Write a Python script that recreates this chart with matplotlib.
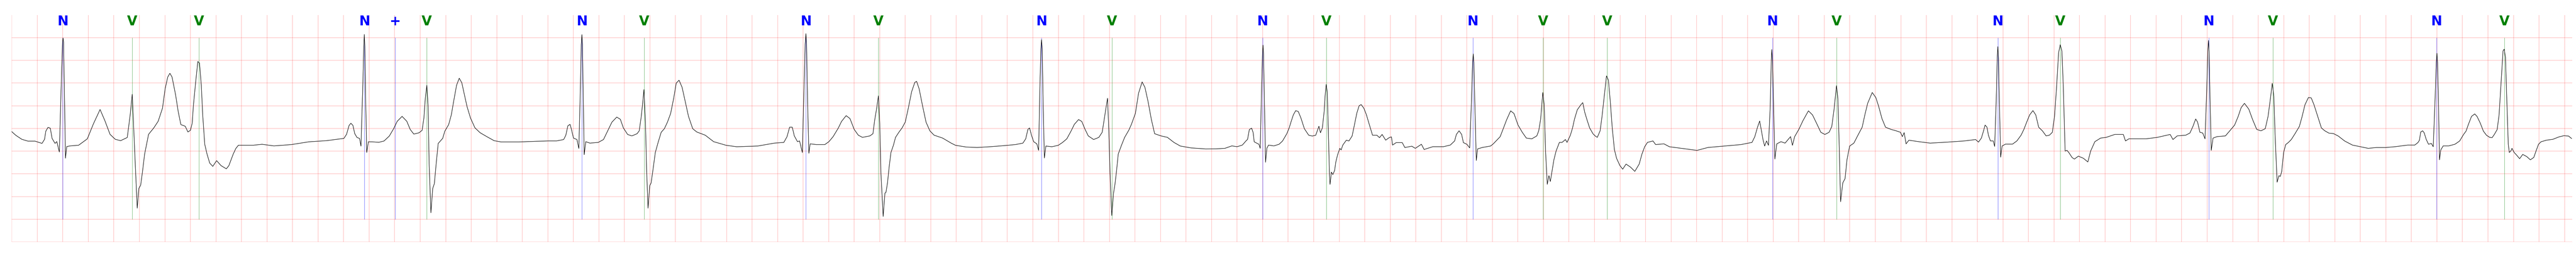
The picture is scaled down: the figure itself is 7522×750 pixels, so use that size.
import numpy as np
import matplotlib
matplotlib.use("Agg")
import matplotlib.pyplot as plt
import matplotlib.transforms as mtransforms

# ---- beat annotations (time in s) ----
ann_t = [0.3995, 0.944, 1.467, 2.764, 3.005, 3.250, 4.467, 4.954, 6.222, 6.789,
         8.068, 8.620, 9.800, 10.300, 11.448, 11.998, 12.498, 13.794, 14.296,
         15.560, 16.049, 17.213, 17.715, 18.998, 19.529]
ann_sym = ['N', 'V', 'V', 'N', '+', 'V', 'N', 'V', 'N', 'V',
           'N', 'V', 'N', 'V', 'N', 'V', 'V', 'N', 'V',
           'N', 'V', 'N', 'V', 'N', 'V']
sym_color = {'N': 'blue', 'V': 'green', '+': 'blue'}

# ---- ECG trace: time (s), amplitude (mV) ----
trace_t = [
    0.000, 0.031, 0.079, 0.127, 0.182, 0.237, 0.257, 0.267, 0.284, 0.302, 0.316, 0.339, 0.353,
    0.373, 0.390, 0.398, 0.402, 0.406, 0.412, 0.421, 0.431, 0.456, 0.524, 0.592, 0.640, 0.692,
    0.729, 0.770, 0.811, 0.853, 0.905, 0.928, 0.944, 0.962, 0.983, 0.996, 1.010, 1.024, 1.041,
    1.072, 1.113, 1.147, 1.181, 1.202, 1.222, 1.239, 1.256, 1.284, 1.304, 1.325, 1.359, 1.380,
    1.400, 1.414, 1.423, 1.441, 1.458, 1.471, 1.485, 1.496, 1.512, 1.530, 1.551, 1.575, 1.605,
    1.640, 1.681, 1.701, 1.735, 1.756, 1.776, 1.824, 1.893, 1.961,
    2.054, 2.191, 2.328, 2.465, 2.602, 2.623, 2.643, 2.657, 2.673, 2.687, 2.705, 2.725, 2.736,
    2.750, 2.758, 2.762, 2.766, 2.773, 2.781, 2.794, 2.821, 2.876, 2.917, 2.958, 2.992, 3.020,
    3.058, 3.095, 3.122, 3.150, 3.191, 3.215, 3.229, 3.240, 3.252, 3.262, 3.270, 3.284, 3.298,
    3.311, 3.325, 3.341, 3.376, 3.393, 3.423, 3.444, 3.464, 3.485, 3.506, 3.526, 3.547, 3.567,
    3.594, 3.629, 3.670, 3.725, 3.779, 3.834, 3.971, 4.108,
    4.201, 4.267, 4.324, 4.341, 4.357, 4.374, 4.385, 4.401, 4.428, 4.443, 4.455, 4.462, 4.467,
    4.471, 4.478, 4.485, 4.497, 4.530, 4.595, 4.636, 4.669, 4.702, 4.740, 4.768, 4.792, 4.825,
    4.858, 4.899, 4.916, 4.932, 4.944, 4.953, 4.965, 4.973, 4.985, 4.998, 5.009, 5.022, 5.042,
    5.064, 5.088, 5.113, 5.137, 5.162, 5.187, 5.206, 5.228, 5.252, 5.277, 5.302, 5.335, 5.367,
    5.433, 5.499, 5.597, 5.680, 5.844, 5.975, 6.049, 6.074, 6.094, 6.115, 6.131, 6.156, 6.172,
    6.194, 6.207, 6.216, 6.222, 6.227, 6.235, 6.245, 6.255, 6.304, 6.370, 6.402, 6.435, 6.476,
    6.501, 6.537, 6.567, 6.600, 6.632, 6.665, 6.723, 6.747,
    6.760, 6.777, 6.790, 6.800, 6.810, 6.827, 6.841, 6.849, 6.861, 6.874, 6.888, 6.908, 6.924,
    6.950, 6.975, 7.000, 7.025, 7.050, 7.075, 7.089, 7.109, 7.134, 7.163, 7.193, 7.226, 7.293,
    7.360, 7.394, 7.478, 7.562, 7.662, 7.763, 7.863, 7.922, 7.944, 7.961, 7.974, 7.989, 8.006,
    8.031, 8.045, 8.055, 8.063, 8.068, 8.073, 8.080, 8.090, 8.102, 8.149, 8.199, 8.233, 8.266,
    8.300, 8.325, 8.358, 8.383, 8.409, 8.434, 8.476, 8.517, 8.543, 8.559, 8.573, 8.585, 8.595,
    8.605, 8.618, 8.632, 8.643, 8.655, 8.669, 8.694, 8.719, 8.752, 8.772, 8.803, 8.828, 8.856,
    8.878, 8.903, 8.928, 8.954, 9.004, 9.054, 9.105, 9.155, 9.238, 9.353,
    9.436, 9.504, 9.559, 9.600, 9.641, 9.669, 9.682, 9.696, 9.714, 9.726, 9.734, 9.758, 9.771,
    9.781, 9.792, 9.799, 9.803, 9.807, 9.814, 9.823, 9.833, 9.846, 9.888, 9.929, 9.956, 9.990,
    10.008, 10.024, 10.041, 10.059, 10.079, 10.100, 10.127, 10.161, 10.189, 10.216, 10.241,
    10.253, 10.268, 10.282, 10.290, 10.298, 10.306, 10.315, 10.323, 10.328, 10.339, 10.350,
    10.364, 10.373, 10.387, 10.405, 10.415, 10.428, 10.456, 10.476, 10.501, 10.517, 10.538,
    10.556, 10.572, 10.593, 10.613, 10.634, 10.661, 10.695, 10.716, 10.736, 10.764, 10.791,
    10.809, 10.818, 10.846, 10.894, 10.914, 10.969, 10.996, 11.044, 11.065, 11.133, 11.216,
    11.270, 11.304, 11.318, 11.339, 11.359, 11.373, 11.400,
    11.422, 11.436, 11.445, 11.450, 11.455, 11.462, 11.474, 11.484, 11.521, 11.586, 11.607,
    11.629, 11.661, 11.683, 11.711, 11.743, 11.769, 11.801, 11.834, 11.866, 11.909, 11.948,
    11.963, 11.978, 11.995, 12.006, 12.017, 12.030, 12.043, 12.054, 12.067, 12.082, 12.099,
    12.125, 12.146, 12.172, 12.185, 12.211, 12.228, 12.243, 12.265, 12.293, 12.308, 12.323,
    12.340, 12.362, 12.388, 12.405, 12.422, 12.444, 12.459, 12.474, 12.494, 12.509, 12.524,
    12.539, 12.556, 12.573, 12.599, 12.621, 12.647, 12.681, 12.716, 12.750, 12.772, 12.793,
    12.815, 12.858, 12.879, 12.944, 12.987, 13.073, 13.203, 13.289, 13.418, 13.548, 13.634,
    13.656, 13.677, 13.694, 13.710, 13.720, 13.733, 13.748, 13.763, 13.777, 13.785, 13.789,
    13.794, 13.802, 13.813, 13.828, 13.861, 13.893, 13.936, 13.951, 13.968, 14.001, 14.033,
    14.076, 14.108, 14.141, 14.173, 14.205, 14.238, 14.259, 14.277, 14.296, 14.307, 14.317,
    14.328, 14.345, 14.363, 14.378, 14.399, 14.432, 14.464, 14.497, 14.518, 14.540, 14.576,
    14.604, 14.626, 14.652, 14.680, 14.723,
    14.763, 14.797, 14.812, 14.826, 14.841, 14.863, 14.941, 15.030, 15.164, 15.297, 15.386,
    15.408, 15.431, 15.448, 15.460, 15.475, 15.486, 15.502, 15.524, 15.535, 15.547, 15.555,
    15.560, 15.565, 15.572, 15.582, 15.593, 15.620, 15.675, 15.709, 15.742, 15.764, 15.786,
    15.809, 15.835, 15.857, 15.880, 15.909, 15.938, 15.964, 15.987, 16.004, 16.020, 16.036,
    16.049, 16.062, 16.073, 16.087, 16.102, 16.116, 16.142, 16.160, 16.191, 16.231, 16.265,
    16.287, 16.320, 16.365, 16.409, 16.476, 16.543, 16.560, 16.587, 16.721, 16.810, 16.910,
    16.932, 16.965, 17.032, 17.065, 17.088, 17.110, 17.125, 17.143, 17.165, 17.183, 17.196,
    17.205, 17.210, 17.215, 17.222, 17.232, 17.246, 17.277, 17.343, 17.377, 17.415, 17.443,
    17.466, 17.492, 17.526, 17.555, 17.588, 17.621, 17.655, 17.677, 17.695, 17.710, 17.722,
    17.733, 17.748, 17.762, 17.773, 17.784, 17.799, 17.815, 17.837, 17.859, 17.888, 17.922,
    17.944, 17.966, 17.993, 18.015, 18.037, 18.066, 18.095, 18.122,
    18.153, 18.190, 18.227, 18.277, 18.338, 18.400, 18.462, 18.524, 18.598, 18.672, 18.771,
    18.826, 18.851, 18.863, 18.873, 18.888, 18.900, 18.916, 18.934, 18.956, 18.971, 18.985,
    18.995, 19.000, 19.005, 19.012, 19.020, 19.030, 19.049, 19.092, 19.141, 19.178, 19.209,
    19.228, 19.246, 19.271, 19.296, 19.314, 19.339, 19.364, 19.388, 19.413, 19.432, 19.450,
    19.472, 19.487, 19.503, 19.518, 19.527, 19.537, 19.547, 19.559, 19.567, 19.580, 19.588,
    19.605, 19.623, 19.648, 19.672, 19.703, 19.732, 19.759, 19.777, 19.796, 19.815, 19.858,
    19.907, 19.957, 19.994, 20.031, 20.055,
]
trace_mv = [
    -0.071, -0.150, -0.240, -0.280, -0.280, -0.330, -0.240, -0.060, 0.023, 0.005, -0.220, -0.330, -0.290,
    -0.520, 1.200, 1.900, 1.990, 1.900, 0.900, -0.656, -0.400, -0.386, -0.370, -0.230, 0.102, 0.416,
    0.175, -0.130, -0.240, -0.270, -0.200, 0.300, 0.752, -0.420, -1.757, -1.320, -1.250, -0.960, -0.566,
    -0.130, 0.012, 0.157, 0.446, 0.877, 1.130, 1.214, 1.130, 0.734, 0.373, 0.084, 0.048, -0.078,
    -0.042, 0.120, 0.500, 1.023, 1.474, 1.438, 0.951, 0.300, -0.349, -0.566, -0.764, -0.836, -0.710,
    -0.820, -0.890, -0.820, -0.566, -0.440, -0.370, -0.370, -0.370, -0.350,
    -0.385, -0.356, -0.295, -0.270, -0.220, -0.130, 0.066, 0.113, 0.066, -0.114, -0.200, -0.220, -0.390,
    0.900, 1.800, 2.070, 1.800, 0.600, -0.530, -0.295, -0.295, -0.306, -0.277, -0.168, -0.006, 0.157,
    0.265, 0.157, -0.024, -0.125, -0.096, -0.042, 0.229, 0.662, 0.951, 0.481, -0.782, -1.858, -1.324,
    -1.215, -0.782, -0.331, -0.220, -0.060, 0.084, 0.301, 0.626, 0.951, 1.106, 1.005, 0.734, 0.481,
    0.229, 0.012, -0.096, -0.186, -0.270, -0.298, -0.298, -0.284,
    -0.276, -0.276, -0.245, -0.149, 0.058, 0.090, -0.021, -0.213, -0.245, -0.442, 0.900, 1.850, 2.066,
    1.850, 0.600, -0.579, -0.292, -0.324, -0.308, -0.245, -0.053, 0.138, 0.249, 0.201, 0.010, -0.133,
    -0.165, -0.117, -0.053, 0.265, 0.584, 0.855, 0.106, -0.850, -1.758, -1.264, -1.201, -0.946, -0.531,
    -0.308, -0.085, -0.006, 0.138, 0.329, 0.679, 0.998, 1.062, 0.903, 0.584, 0.265, -0.006, -0.079,
    -0.149, -0.292, -0.372, -0.404, -0.388, -0.324, -0.308, -0.181, 0.026, 0.026, -0.165, -0.292, -0.276,
    -0.531, 0.900, 1.850, 2.088, 1.850, 0.600, -0.547, -0.340, -0.356, -0.356, -0.292, -0.181, 0.010,
    0.154, 0.281, 0.217, -0.021, -0.149, -0.197, -0.165, -0.117,
    0.170, 0.457, 0.718, 0.106, -1.009, -1.940, -1.424, -1.408, -1.201, -0.850, -0.531, -0.366, -0.197,
    -0.085, 0.010, 0.138, 0.457, 0.807, 1.014, 1.037, 0.871, 0.520, 0.138, -0.053, -0.149, -0.213,
    -0.324, -0.372, -0.410, -0.420, -0.404, -0.382, -0.356, -0.324, -0.229, -0.021, 0.010, -0.149, -0.292,
    -0.340, -0.484, 0.900, 1.750, 1.954, 1.750, 0.600, -0.652, -0.388, -0.404, -0.372, -0.308, -0.229,
    -0.053, 0.090, 0.195, 0.154, -0.021, -0.165, -0.245, -0.197, -0.085, 0.201, 0.457, 0.664, -0.053,
    -1.009, -1.918, -1.424, -1.232, -0.946, -0.563, -0.372, -0.197, -0.037, 0.090, 0.329, 0.775, 1.024,
    0.903, 0.584, 0.201, -0.117, -0.165, -0.197, -0.308, -0.388, -0.429, -0.452,
    -0.450, -0.439, -0.385, -0.403, -0.367, -0.277, -0.241, -0.024, 0.005, -0.096, -0.295, -0.331, -0.349,
    -0.439, 0.900, 1.650, 1.835, 1.650, 0.600, -0.746, -0.439, -0.367, -0.385, -0.349, -0.277, -0.114,
    0.012, 0.157, 0.301, 0.391, 0.373, 0.229, -0.006, -0.150, -0.168, -0.150, 0.048,
    -0.096, 0.012, 0.373, 0.734, 0.969, 0.806, -0.060, -0.962, -1.233, -0.962, -1.017,
    -0.926, -0.746, -0.584, -0.439, -0.475, -0.367, -0.259, -0.277, -0.168, 0.048, 0.337,
    0.499, 0.525, 0.445, 0.301, 0.102, -0.150, -0.150, -0.204, -0.132, -0.259, -0.204,
    -0.186, -0.367, -0.313, -0.313, -0.421, -0.392, -0.439, -0.349, -0.464, -0.403, -0.403,
    -0.367, -0.277, -0.132, -0.053, -0.132, -0.313, -0.349,
    -0.429, 0.600, 1.450, 1.642, 1.450, 0.600, -0.707, -0.452, -0.420, -0.388, -0.340,
    -0.276, -0.181, -0.021, 0.186, 0.387, 0.329, 0.074, -0.085, -0.213, -0.229, -0.165,
    -0.053, 0.201, 0.791, 0.520, -0.531, -1.232, -1.041, -1.169, -0.946, -0.691, -0.499,
    -0.308, -0.308, -0.245, -0.308, -0.149, 0.010, 0.201, 0.409, 0.520, 0.568, 0.361,
    0.201, 0.010, -0.117, -0.165, -0.197, -0.053, 0.265, 0.648, 1.158, 1.062, 0.584,
    0.010, -0.467, -0.659, -0.818, -0.898, -0.786, -0.850, -0.946, -0.786, -0.563, -0.404,
    -0.308, -0.276, -0.356, -0.340, -0.404, -0.436, -0.484, -0.420, -0.388, -0.356, -0.308,
    -0.181, 0.026, 0.163, -0.085, -0.245, -0.388, -0.276, -0.372, 0.500, 1.500, 1.738,
    1.500, 0.600, -0.675, -0.340, -0.292, -0.324, -0.181, -0.372, -0.181, -0.021, 0.170,
    0.387, 0.297, 0.106, -0.085, -0.133, -0.085, 0.042, 0.425, 0.941, 0.648, -0.372,
    -1.615, -1.201, -1.105, -0.691, -0.388, -0.324, -0.149, 0.026, 0.297, 0.552, 0.791,
    0.680, 0.488, 0.217, 0.026, -0.021,
    -0.053, -0.085, -0.181, -0.092, -0.340, -0.260, -0.292, -0.324, -0.302, -0.276, -0.245,
    -0.302, -0.213, -0.053, 0.074, 0.026, -0.149, -0.276, -0.276, -0.397, 0.600, 1.550,
    1.801, 1.550, 0.600, -0.633, -0.388, -0.346, -0.346, -0.276, -0.149, -0.021, 0.138,
    0.297, 0.393, 0.297, 0.026, -0.053, -0.165, -0.149, -0.085, 0.265, 0.903, 1.668,
    1.843, 1.699, 0.903, -0.499, -0.484, -0.531, -0.643, -0.675, -0.611, -0.659, -0.739,
    -0.499, -0.292, -0.213, -0.197, -0.133, -0.133, -0.276, -0.229, -0.229, -0.197, -0.133,
    -0.245, -0.165, -0.149, -0.101, 0.042, 0.208, 0.138, -0.085, -0.101, -0.229, 0.800,
    1.700, 1.938, 1.700, 0.700, -0.484, -0.213, -0.181, -0.165, -0.053, 0.074, 0.265,
    0.457, 0.552, 0.425, 0.201, -0.021, -0.053, -0.006, 0.265, 0.648, 0.992, 0.711,
    -0.213, -1.185, -1.041, -1.057, -0.946, -0.531, -0.356, -0.308, -0.245, -0.117, 0.042,
    0.265, 0.520, 0.680, 0.673, 0.520, 0.265, 0.010, -0.053,
    -0.103, -0.114, -0.168, -0.277, -0.367, -0.403, -0.439, -0.421, -0.421, -0.403, -0.367,
    -0.367, -0.313, -0.259, -0.078, -0.053, -0.096, -0.241, -0.349, -0.331, -0.403, 0.600,
    1.450, 1.655, 1.450, 0.600, -0.692, -0.475, -0.385, -0.385, -0.349, -0.277, -0.132,
    -0.060, 0.084, 0.265, 0.319, 0.265, 0.120, -0.060, -0.150, -0.197, -0.204, -0.132,
    -0.024, 0.301, 1.023, 1.709, 1.745, 1.564, 0.662, -0.349, -0.530, -0.493, -0.439,
    -0.530, -0.584, -0.667, -0.573, -0.619, -0.692, -0.638, -0.493, -0.349, -0.295, -0.259,
    -0.241, -0.186, -0.161, -0.168, -0.222,
]

t_max = 20.06
y_min, y_max = -2.5, 2.5

W, H = 7522, 750
fig = plt.figure(figsize=(W / 100, H / 100), dpi=100)
ax = fig.add_axes([34.3 / W, 44.0 / H, (7511 - 34.3) / W, (706 - 43.5) / H])

ax.plot(trace_t, trace_mv, color='black', linewidth=1.0, zorder=3)

ax.set_xlim(0, t_max)
ax.set_ylim(y_min, y_max)
ax.set_xticks(np.arange(0, t_max, 0.2))
ax.set_yticks(np.arange(y_min, y_max, 0.5))
ax.grid(True, color='red', alpha=0.25, linewidth=1.1)
ax.set_axisbelow(True)
ax.tick_params(length=0, labelbottom=False, labelleft=False)
for s in ax.spines.values():
    s.set_visible(False)

colors = [sym_color[s] for s in ann_sym]
ax.vlines(ann_t, -2.0, 2.0, colors=colors, linewidth=0.8, alpha=0.6, zorder=2)

trans = mtransforms.blended_transform_factory(ax.transData, ax.transAxes)
for t, s in zip(ann_t, ann_sym):
    ax.text(t, 1.0, s, transform=trans, ha='center', va='top',
            color=sym_color[s], fontsize=28, fontweight='bold',
            family=['Liberation Sans Narrow', 'DejaVu Sans'], zorder=4)

fig.savefig('out.png', dpi=100)
